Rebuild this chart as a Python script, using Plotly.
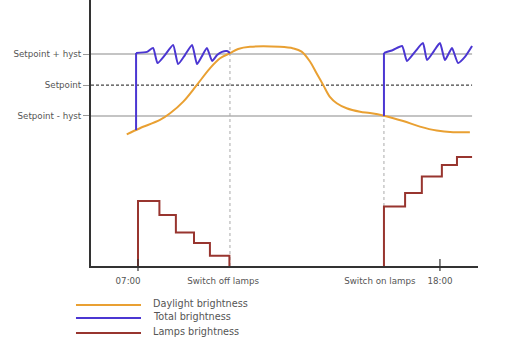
import plotly.graph_objects as go

# ---- data (x in hours of the day, y in relative brightness units) ----
day_x = [6.59, 7.07, 7.80, 8.17, 8.65, 9.14, 9.62, 9.99, 10.35, 10.65, 11.08, 12.17,
         12.66, 12.96, 13.27, 13.51, 13.75, 13.99, 14.24, 14.60, 15.09, 15.45, 15.96,
         16.66, 17.27, 17.88, 18.48, 19.09]
day_y = [49.5, 51.8, 54.9, 57.4, 61.8, 68.0, 74.3, 78.1, 80.0, 81.6, 82.4, 82.4,
         81.8, 80.6, 76.8, 72.4, 68.0, 63.6, 61.2, 59.3, 58.0, 57.5, 56.5,
         54.5, 52.4, 50.9, 50.3, 50.3]

# total brightness: jump when lamps switch on, then oscillation around the upper threshold
jump_x = [6.93, 6.93, None, 15.96, 15.96]
jump_y = [51.1, 80.1, None, 56.4, 80.1]

total_x = [6.93, 7.33, 7.55, 7.71, 7.98, 8.28, 8.46, 8.71, 8.97, 9.15, 9.33, 9.51,
           9.70, 9.88, 10.06, 10.24, 10.35, None,
           15.96, 16.29, 16.62, 16.80, 17.09, 17.38, 17.53, 17.78, 18.00, 18.18,
           18.33, 18.44, 18.66, 18.91, 19.17]
total_y = [80.1, 80.5, 82.0, 76.3, 79.3, 83.1, 75.9, 79.3, 83.1, 75.9, 78.9, 82.0,
           77.1, 79.3, 80.5, 80.8, 80.1, None,
           80.1, 81.2, 82.7, 77.1, 80.5, 83.8, 77.4, 80.8, 83.8, 77.4,
           80.1, 82.0, 76.3, 78.6, 82.7]

lamps_x = [7.00, 7.00, 7.78, 8.38, 9.04, 9.62, 10.33, 10.33, None,
           15.96, 15.96, 16.73, 17.34, 18.07, 18.62, 19.17]
lamps_y = [0, 24.4, 19.2, 12.6, 8.6, 3.9, 0, 0, None,
           0, 22.4, 27.4, 33.6, 38.0, 41.0, 41.0]

level_names = ["Setpoint - hyst", "Setpoint", "Setpoint + hyst"]
level_vals = [56.4, 68.0, 79.7]
level_end = 19.17

event_x = [10.35, 15.96]          # switch off / switch on
event_top = [84.2, 56.4]

tick_x = [7.0, 18.0]
label_pos = [6.64, 10.10, 15.81, 18.0]
label_text = ["07:00", "Switch off lamps", "Switch on lamps", "18:00"]

legend_names = ["Daylight brightness", "Total brightness", "Lamps brightness"]
C_DAY, C_TOT, C_LAMP = "#E9A032", "#4B36D2", "#98352F"
legend_colors = [C_DAY, C_TOT, C_LAMP]

TXT = "#555555"
FONT = "DejaVu Sans"

fig = go.Figure()

fig.add_trace(go.Scatter(x=day_x, y=day_y, mode="lines", name=legend_names[0],
                         line=dict(color=C_DAY, width=2, shape="spline", smoothing=1.0),
                         showlegend=False))
fig.add_trace(go.Scatter(x=jump_x, y=jump_y, mode="lines", name=legend_names[1],
                         line=dict(color=C_TOT, width=2), showlegend=False))
fig.add_trace(go.Scatter(x=total_x, y=total_y, mode="lines", name=legend_names[1],
                         line=dict(color=C_TOT, width=2, shape="spline", smoothing=0.5),
                         showlegend=False))
fig.add_trace(go.Scatter(x=lamps_x, y=lamps_y, mode="lines", name=legend_names[2],
                         line=dict(color=C_LAMP, width=2, shape="hv"), showlegend=False))

shapes = []
# reference level lines
for name, v in zip(level_names, level_vals):
    if name == "Setpoint":
        ln = dict(color="#444444", width=1.3, dash="3px,2px")
    else:
        ln = dict(color="#B0B0B0", width=1.3)
    shapes.append(dict(type="line", xref="x", yref="y", x0=5.288, x1=level_end,
                       y0=v, y1=v, line=ln, layer="below"))
# vertical dotted event lines
for ex, et in zip(event_x, event_top):
    shapes.append(dict(type="line", xref="x", yref="y", x0=ex, x1=ex, y0=0, y1=et,
                       line=dict(color="#AAAAAA", width=1, dash="dot"), layer="below"))
# tick marks crossing the x axis
for tx in tick_x:
    shapes.append(dict(type="line", xref="x", yref="paper", x0=tx, x1=tx,
                       y0=-5 / 266, y1=7 / 266, line=dict(color="#333333", width=1.2)))

# manual legend
leg_rows = [-0.1466, -0.1955, -0.2519]
annotations = []
for name, col, yy in zip(legend_names, legend_colors, leg_rows):
    shapes.append(dict(type="line", xref="paper", yref="paper", x0=-0.0388, x1=0.1292,
                       y0=yy, y1=yy, line=dict(color=col, width=2.2)))
    annotations.append(dict(xref="paper", yref="paper", x=0.155, y=yy + 0.004,
                            xanchor="left", yanchor="middle", showarrow=False,
                            text=name, font=dict(family=FONT, size=9.7, color=TXT)))

fig.update_layout(
    width=527, height=354,
    margin=dict(l=91, r=49, t=0, b=88),
    paper_bgcolor="white", plot_bgcolor="white",
    showlegend=False,
    shapes=shapes, annotations=annotations,
    xaxis=dict(range=[5.288, 19.386], showgrid=False, zeroline=False,
               showline=True, linecolor="#333333", linewidth=2,
               tickvals=label_pos, ticktext=label_text, ticks="",
               ticklabelstandoff=6,
               tickfont=dict(family=FONT, size=8.7, color=TXT)),
    yaxis=dict(range=[0, 100], showgrid=False, zeroline=False,
               showline=True, linecolor="#333333", linewidth=2,
               tickvals=level_vals, ticktext=level_names,
               ticks="outside", ticklen=6, tickcolor="#999999", tickwidth=1.2,
               tickfont=dict(family=FONT, size=8.7, color=TXT)),
)

fig.write_html("out.html")
